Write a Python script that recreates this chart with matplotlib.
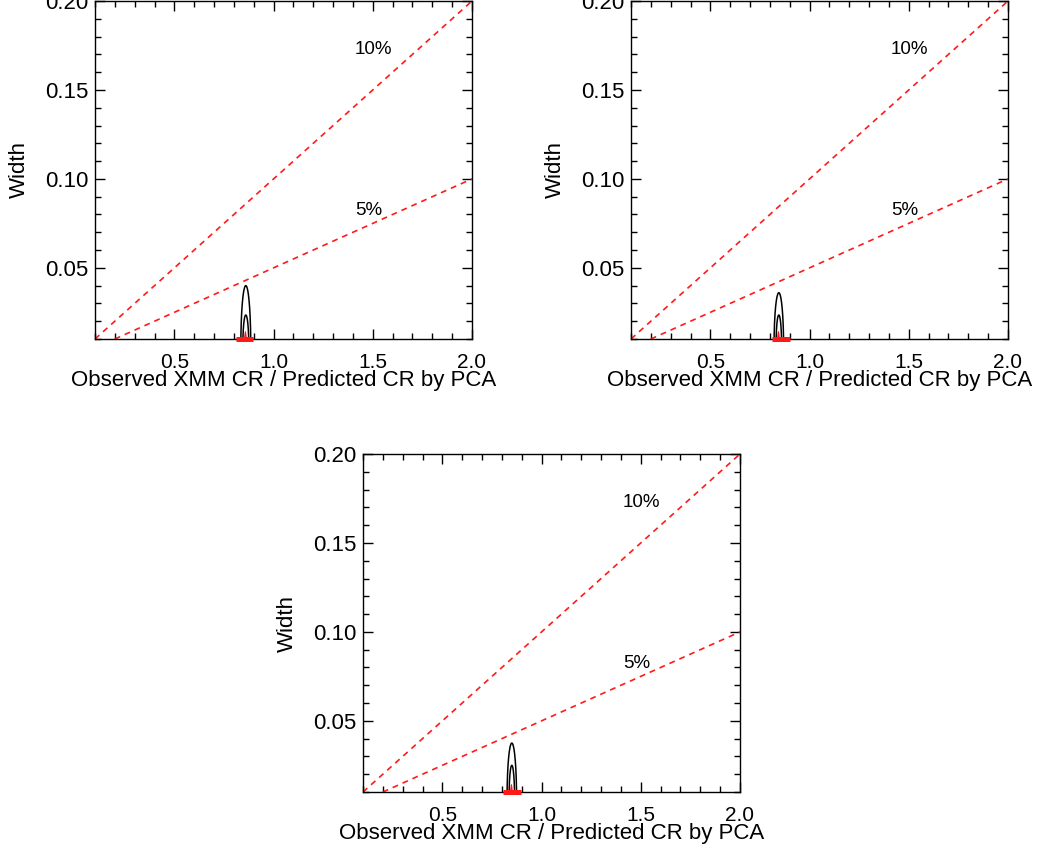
import numpy as np
import matplotlib
matplotlib.use("Agg")
import matplotlib.pyplot as plt
from matplotlib.ticker import MultipleLocator

plt.rcParams['font.family'] = ['Liberation Sans', 'DejaVu Sans']

# reference lines: width = fraction * ratio
line_fracs = [0.10, 0.05]
line_labels = ['10%', '5%']
label_pos = [(1.41, 0.1725), (1.41, 0.0825)]

# confidence contours per panel: centre x, half-width in x, peak width
centers = [0.86, 0.845, 0.85]
outer_halfw = [0.025, 0.024, 0.024]
outer_peak = [0.040, 0.036, 0.0375]
mid_halfw = [0.015, 0.014, 0.014]
mid_peak = [0.0235, 0.0235, 0.025]
best_halfw = [0.008, 0.008, 0.008]
best_peak = [0.0145, 0.0145, 0.0145]
bar_lo = [0.81, 0.81, 0.805]
bar_hi = [0.895, 0.90, 0.895]

x_range = (0.1, 2.0)
y_range = (0.01, 0.20)
x_ticks = [0.5, 1.0, 1.5, 2.0]
y_ticks = [0.05, 0.10, 0.15, 0.20]

W, H = 1041, 856
# axes boxes in pixels: left, top, right, bottom
boxes = [(95, 1, 472, 339), (631, 1, 1008, 339), (363, 454, 740, 792)]


def arch(xc, hw, peak, base=0.006):
    t = np.linspace(0, np.pi, 200)
    x = xc - hw * np.cos(t)
    y = base + (peak - base) * np.sin(t)
    return x, y


fig = plt.figure(figsize=(W / 100, H / 100), dpi=100)

for i, (l, t, r, b) in enumerate(boxes):
    ax = fig.add_axes([l / W, 1 - b / H, (r - l) / W, (b - t) / H])
    ax.set_xlim(*x_range)
    ax.set_ylim(*y_range)

    xs = np.array(x_range)
    for frac, lab, (tx, ty) in zip(line_fracs, line_labels, label_pos):
        ax.plot(xs, frac * xs, color='#ff1a1a', lw=1.2, dashes=(3.5, 3))
        ax.text(tx, ty, lab, fontsize=13.5, va='center', ha='left')

    for hw, pk in [(outer_halfw[i], outer_peak[i]), (mid_halfw[i], mid_peak[i])]:
        cx, cy = arch(centers[i], hw, pk)
        ax.plot(cx, cy, color='black', lw=1.1)

    bx, by = arch(centers[i] - 0.002, best_halfw[i], best_peak[i])
    ax.fill(bx, by, color='#ff1a1a', lw=0, zorder=4)
    ax.plot([bar_lo[i], bar_hi[i]], [y_range[0], y_range[0]], color='#ff1a1a',
            lw=3.6, solid_capstyle='butt', clip_on=False, zorder=5)

    ax.xaxis.set_minor_locator(MultipleLocator(0.1))
    ax.yaxis.set_minor_locator(MultipleLocator(0.01))
    ax.set_yticks(y_ticks)
    ax.set_yticklabels([f'{v:.2f}' for v in y_ticks])
    ax.set_xticks(x_ticks)
    ax.set_xticklabels([f'{v:.1f}' for v in x_ticks])
    ax.tick_params(which='both', direction='in', top=True, right=True, width=1)
    ax.tick_params(which='major', length=7)
    ax.tick_params(which='minor', length=4)
    ax.tick_params(axis='x', pad=10, labelsize=15)
    ax.tick_params(axis='y', pad=5, labelsize=16)
    for s in ax.spines.values():
        s.set_linewidth(1.0)

    ax.set_xlabel('Observed XMM CR / Predicted CR by PCA', fontsize=16)
    ax.set_ylabel('Width', fontsize=16)
    ax.xaxis.set_label_coords(0.5, -0.093)
    ax.yaxis.set_label_coords(-0.172, 0.5)

fig.savefig('out.png', dpi=100)
